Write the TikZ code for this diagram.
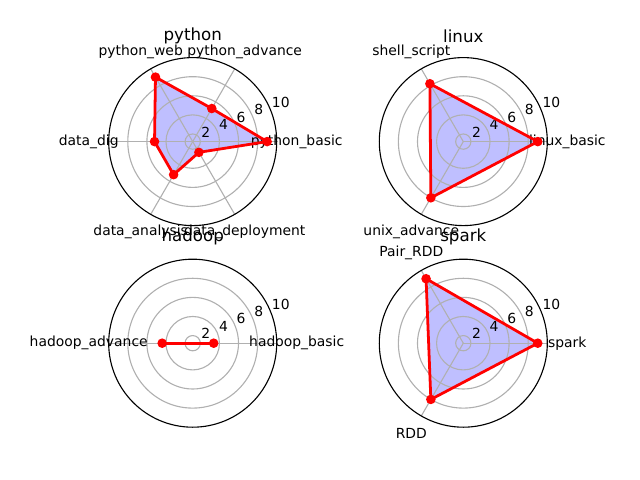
\documentclass[tikz,border=0pt]{standalone}
\usepackage{fontspec}
\setmainfont{DejaVu Sans}
\usepackage{tikz}
\definecolor{gridgray}{HTML}{B0B0B0}
\newcommand{\rpos}[1]{((#1)-1.2)*9.545}

\begin{document}
\begin{tikzpicture}[x=0.72pt,y=0.72pt,line cap=round,line join=round,
  gridline/.style={color=gridgray,line width=0.8pt},
  spine/.style={color=black,line width=0.8pt},
  datafill/.style={fill=blue,fill opacity=0.25},
  dataline/.style={color=red,line width=2pt},
  datadot/.style={fill=red},
  axlabel/.style={font=\fontsize{10}{12}\selectfont,inner sep=0pt},
  rlabel/.style={font=\fontsize{10}{12}\selectfont,anchor=south west,inner sep=1pt},
  charttitle/.style={font=\fontsize{12}{14}\selectfont,inner sep=0pt}]
  \useasboundingbox (0,0) rectangle (640,480);
  % python
  \begin{scope}[shift={(192.7,338.4)}]
    \foreach \a/\v [count=\i] in {0/9,60/5.2,120/9,180/5.2,240/5.2,300/2.5}
      \coordinate (py\i) at (\a:{\rpos{\v}});
    \fill[datafill] (py1) -- (py2) -- (py3) -- (py4) -- (py5) -- (py6) -- cycle;
    \foreach \r in {2,4,6,8}
      \draw[gridline] (0,0) circle ({\rpos{\r}});
    \foreach \a in {0,60,...,300}
      \draw[gridline] (0,0) -- (\a:84);
    \draw[spine] (0,0) circle (84);
    \foreach \r in {2,4,6,8,10}
      \node[rlabel] at (22.5:{\rpos{\r}}) {\r};
    \node[axlabel] (py-basic) at (0:104) {python\_basic};
    \node[axlabel] (py-advance) at (60:104) {python\_advance};
    \node[axlabel] (py-web) at (120:104) {python\_web};
    \node[axlabel] (py-dig) at (180:104) {data\_dig};
    \node[axlabel] (py-analysis) at (240:104) {data\_analysis};
    \node[axlabel] (py-deploy) at (300:104) {data\_deployment};
    \node[charttitle] (py-title) at (0,105.6) {python};
    \draw[dataline] (py1) -- (py2) -- (py3) -- (py4) -- (py5) -- (py6) -- cycle;
    \foreach \i in {1,...,6}
      \fill[datadot] (py\i) circle (4.8);
  \end{scope}
  % linux
  \begin{scope}[shift={(463.3,338.4)}]
    \foreach \a/\v [count=\i] in {0/9,120/8.2,240/8}
      \coordinate (lx\i) at (\a:{\rpos{\v}});
    \fill[datafill] (lx1) -- (lx2) -- (lx3) -- cycle;
    \foreach \r in {2,4,6,8}
      \draw[gridline] (0,0) circle ({\rpos{\r}});
    \foreach \a in {0,120,240}
      \draw[gridline] (0,0) -- (\a:84);
    \draw[spine] (0,0) circle (84);
    \foreach \r in {2,4,6,8,10}
      \node[rlabel] at (22.5:{\rpos{\r}}) {\r};
    \node[axlabel] (lx-basic) at (0:104) {linux\_basic};
    \node[axlabel] (lx-shell) at (120:104) {shell\_script};
    \node[axlabel] (lx-unix) at (240:104) {unix\_advance};
    \node[charttitle] (lx-title) at (0,105.6) {linux};
    \draw[dataline] (lx1) -- (lx2) -- (lx3) -- cycle;
    \foreach \i in {1,...,3}
      \fill[datadot] (lx\i) circle (4.8);
  \end{scope}
  % hadoop
  \begin{scope}[shift={(192.7,136.8)}]
    \foreach \a/\v [count=\i] in {0/3.4,180/4.4}
      \coordinate (hd\i) at (\a:{\rpos{\v}});
    \foreach \r in {2,4,6,8}
      \draw[gridline] (0,0) circle ({\rpos{\r}});
    \foreach \a in {0,180}
      \draw[gridline] (0,0) -- (\a:84);
    \draw[spine] (0,0) circle (84);
    \foreach \r in {2,4,6,8,10}
      \node[rlabel] at (22.5:{\rpos{\r}}) {\r};
    \node[axlabel] (hd-basic) at (0:104) {hadoop\_basic};
    \node[axlabel] (hd-advance) at (180:104) {hadoop\_advance};
    \node[charttitle] (hd-title) at (0,106.2) {hadoop};
    \draw[dataline] (hd1) -- (hd2);
    \foreach \i in {1,2}
      \fill[datadot] (hd\i) circle (4.8);
  \end{scope}
  % spark
  \begin{scope}[shift={(463.3,136.8)}]
    \foreach \a/\v [count=\i] in {0/9,120/9,240/8}
      \coordinate (sp\i) at (\a:{\rpos{\v}});
    \fill[datafill] (sp1) -- (sp2) -- (sp3) -- cycle;
    \foreach \r in {2,4,6,8}
      \draw[gridline] (0,0) circle ({\rpos{\r}});
    \foreach \a in {0,120,240}
      \draw[gridline] (0,0) -- (\a:84);
    \draw[spine] (0,0) circle (84);
    \foreach \r in {2,4,6,8,10}
      \node[rlabel] at (22.5:{\rpos{\r}}) {\r};
    \node[axlabel] (sp-spark) at (0:104) {spark};
    \node[axlabel] (sp-pair) at (120:104) {Pair\_RDD};
    \node[axlabel] (sp-rdd) at (240:104) {RDD};
    \node[charttitle] (sp-title) at (0,106.2) {spark};
    \draw[dataline] (sp1) -- (sp2) -- (sp3) -- cycle;
    \foreach \i in {1,...,3}
      \fill[datadot] (sp\i) circle (4.8);
  \end{scope}
\end{tikzpicture}
\end{document}
